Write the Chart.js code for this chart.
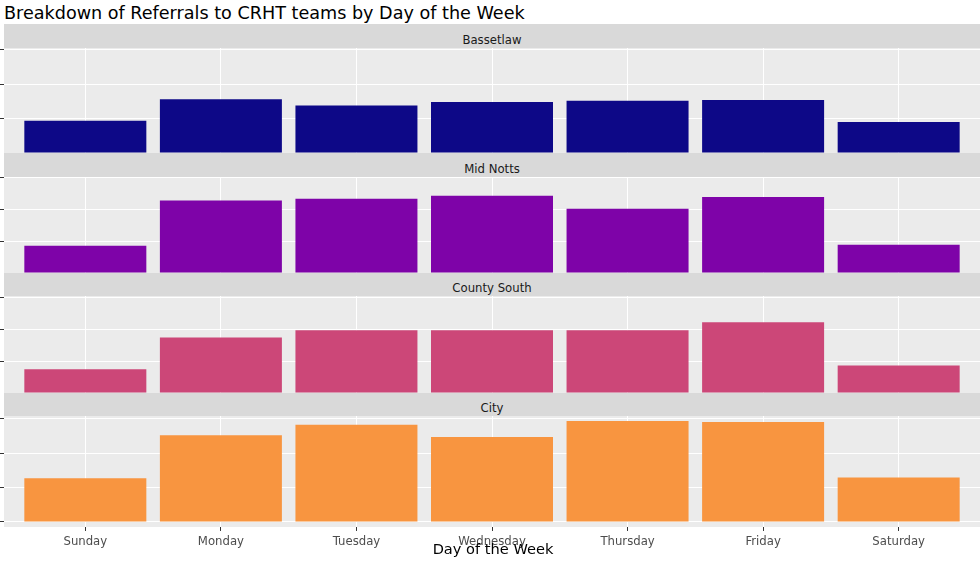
<!DOCTYPE html>
<html>
<head>
<meta charset="utf-8">
<script src="https://cdn.jsdelivr.net/npm/chart.js@4"></script>
<style>
  html, body { margin: 0; padding: 0; background: #fff; }
  body { width: 980px; height: 563px; position: relative; overflow: hidden; font-family: "DejaVu Sans", Verdana, sans-serif; }
  .title { position: absolute; left: 4px; top: 0px; font-size: 17.6px; color: #000; line-height: 26px; white-space: nowrap; }
  .strip { position: absolute; left: 4px; width: 976px; background: #d9d9d9; color: #1a1a1a; font-size: 11.7px; text-align: center; z-index: 2; }
  .strip span { position: relative; top: 4px; }
  .panel { position: absolute; left: 0; width: 980px; }
  .xtitle { position: absolute; left: 0; width: 986px; top: 540px; text-align: center; font-size: 14.6px; color: #000; line-height: 18px; z-index: 3; }
</style>
</head>
<body>
<div class="title">Breakdown of Referrals to CRHT teams by Day of the Week</div>

<div class="strip" style="top:24px;height:24px;line-height:24px"><span>Bassetlaw</span></div>
<div class="panel" style="top:48px;height:105px"><canvas id="chart-bassetlaw"></canvas></div>

<div class="strip" style="top:153px;height:24px;line-height:24px"><span>Mid Notts</span></div>
<div class="panel" style="top:177px;height:96px"><canvas id="chart-midnotts"></canvas></div>

<div class="strip" style="top:273px;height:23px;line-height:23px"><span>County South</span></div>
<div class="panel" style="top:296px;height:97px"><canvas id="chart-countysouth"></canvas></div>

<div class="strip" style="top:393px;height:23px;line-height:23px"><span>City</span></div>
<div class="panel" style="top:416px;height:137px"><canvas id="chart-city"></canvas></div>

<div class="xtitle">Day of the Week</div>

<script>
// Datos
const days = ['Sunday', 'Monday', 'Tuesday', 'Wednesday', 'Thursday', 'Friday', 'Saturday'];

const bassetlaw = [47, 78, 69, 74, 76, 77, 45];
const midNotts = [86, 229, 234, 244, 203, 240, 89];
const countySouth = [75, 175, 198, 198, 198, 223, 87];
const city = [127, 252, 282, 247, 293, 290, 129];

const bassetlawTicks = [0, 50, 100, 150];
const midNottsTicks = [0, 100, 200, 300];
const countySouthTicks = [0, 100, 200, 300];
const cityTicks = [0, 100, 200, 300];

// Fondo gris del panel
const panelBg = {
    id: 'panelBg',
    beforeDraw(chart) {
        const a = chart.chartArea;
        const ctx = chart.ctx;
        ctx.save();
        ctx.fillStyle = '#ebebeb';
        ctx.fillRect(a.left, a.top, a.right - a.left, a.bottom - a.top);
        ctx.restore();
    }
};

function makePanel(id, values, color, ticks, yMin, yMax, showX) {
    const ctx = document.getElementById(id).getContext('2d');
    return new Chart(ctx, {
        type: 'bar',
        data: {
            datasets: [{
                data: values.map((v, i) => ({ x: i, y: v })),
                backgroundColor: color,
                borderWidth: 0,
                barPercentage: 0.9,
                categoryPercentage: 1
            }]
        },
        options: {
            responsive: true,
            maintainAspectRatio: false,
            animation: false,
            layout: { padding: 0 },
            plugins: {
                legend: { display: false },
                tooltip: { enabled: false }
            },
            scales: {
                x: {
                    type: 'linear',
                    min: -0.6,
                    max: 6.6,
                    offset: false,
                    afterBuildTicks: (scale) => { scale.ticks = days.map((d, i) => ({ value: i })); },
                    grid: {
                        offset: false,
                        color: '#ffffff',
                        lineWidth: 1,
                        drawTicks: showX,
                        tickLength: 4,
                        tickColor: '#333333'
                    },
                    border: { display: false },
                    ticks: {
                        display: showX,
                        padding: 4,
                        color: '#4d4d4d',
                        font: { family: 'DejaVu Sans', size: 11.7 },
                        callback: (v) => days[v]
                    }
                },
                y: {
                    type: 'linear',
                    min: yMin,
                    max: yMax,
                    afterBuildTicks: (scale) => { scale.ticks = ticks.map(t => ({ value: t })); },
                    grid: {
                        color: '#ffffff',
                        lineWidth: 1,
                        drawTicks: true,
                        tickLength: 4,
                        tickColor: '#333333'
                    },
                    border: { display: false },
                    ticks: { display: false }
                }
            }
        },
        plugins: [panelBg]
    });
}

makePanel('chart-bassetlaw', bassetlaw, '#0d0887', bassetlawTicks, 0, 152.6, false);
makePanel('chart-midnotts', midNotts, '#7e03a8', midNottsTicks, 0, 302.8, false);
makePanel('chart-countysouth', countySouth, '#cc4778', countySouthTicks, 0, 306, false);
makePanel('chart-city', city, '#f89540', cityTicks, -14.65, 307.65, true);
</script>
</body>
</html>
